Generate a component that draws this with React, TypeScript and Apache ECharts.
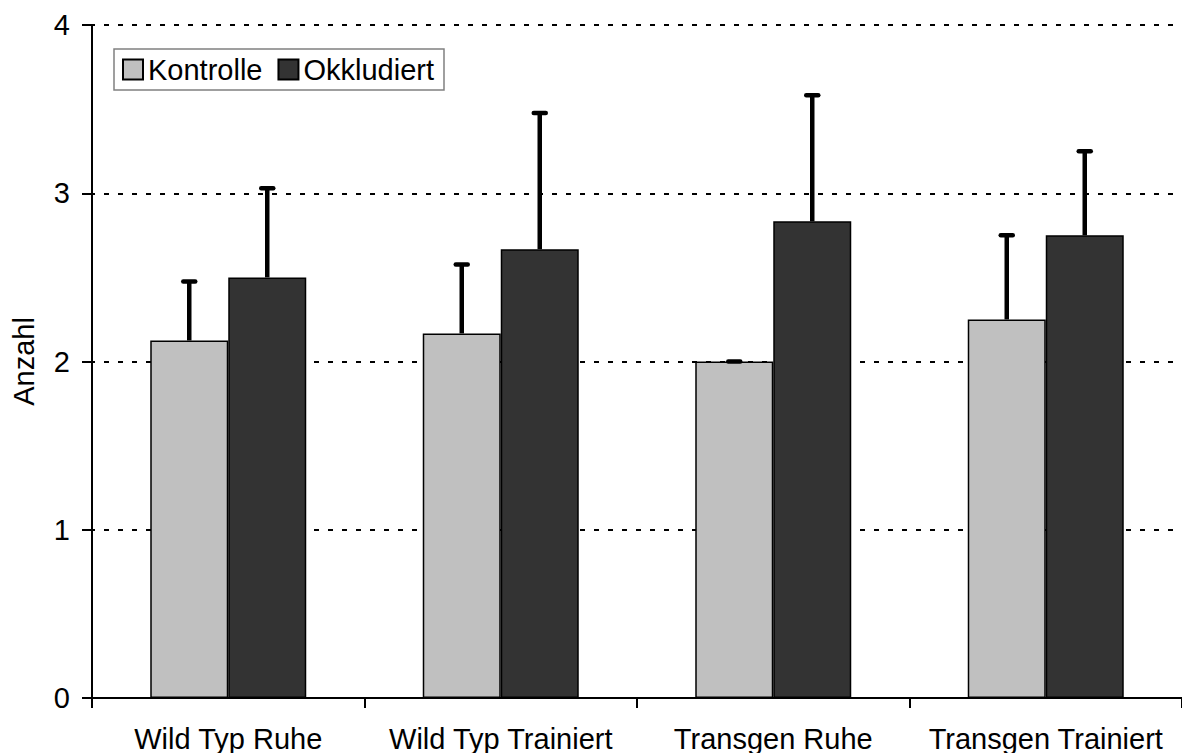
import React, { useEffect, useRef } from "react";
import * as echarts from "echarts";

const categories = ["Wild Typ Ruhe", "Wild Typ Trainiert", "Transgen Ruhe", "Transgen Trainiert"];
const kontrolle = [2.125, 2.167, 2.0, 2.25];
const kontrolleErr = [0.35, 0.41, 0.0, 0.5];
const okkludiert = [2.5, 2.667, 2.833, 2.75];
const okkludiertErr = [0.53, 0.81, 0.75, 0.5];
const yTicks = { min: 0, max: 4, interval: 1 };

const FONT = "'Liberation Sans', Arial, sans-serif";
const FS = 29;
const CAT_GAP = 0.4275;

function errSeries(name: string, vals: number[], errs: number[], side: number) {
  return {
    type: "custom",
    name: name + " SE",
    z: 5,
    clip: false,
    encode: { x: 0, y: 1 },
    data: vals.map((v, i) => [i, v, errs[i]]),
    renderItem: (params: any, api: any) => {
      const i = api.value(0);
      const v = api.value(1);
      const e = api.value(2);
      const band = api.size([1, 0])[0];
      const barW = (band * (1 - CAT_GAP)) / 2;
      const top = api.coord([i, v + e]);
      const base = api.coord([i, v]);
      const x = top[0] + (side * barW) / 2;
      return {
        type: "group",
        children: [
          {
            type: "line",
            shape: { x1: x, y1: base[1], x2: x, y2: top[1] },
            style: { stroke: "#000", lineWidth: 4.5 },
          },
          {
            type: "line",
            shape: { x1: x - 6, y1: top[1], x2: x + 6, y2: top[1] },
            style: { stroke: "#000", lineWidth: 4.5, lineCap: "round" },
          },
        ],
      };
    },
  };
}

export default function App() {
  const ref = useRef<HTMLDivElement>(null);
  useEffect(() => {
    if (!ref.current) return;
    const chart = echarts.init(ref.current, undefined, { renderer: "svg" });
    chart.setOption({
      animation: false,
      backgroundColor: "#fff",
      textStyle: { fontFamily: FONT },
      grid: {
        left: 92,
        right: 0,
        top: 25,
        bottom: 55,
        containLabel: false,
        outerBoundsMode: "none",
      },
      legend: {
        data: ["Kontrolle", "Okkludiert"],
        left: 114,
        top: 49,
        orient: "horizontal",
        padding: [6, 10, 6, 8],
        itemWidth: 20,
        itemHeight: 20,
        itemGap: 15,
        icon: "rect",
        borderColor: "#808080",
        borderWidth: 1.5,
        borderRadius: 0,
        itemStyle: { borderColor: "#000", borderWidth: 2 },
        textStyle: { fontSize: FS, color: "#000", fontFamily: FONT },
      },
      xAxis: {
        type: "category",
        data: categories,
        boundaryGap: true,
        axisLine: { lineStyle: { color: "#000", width: 2 } },
        axisTick: { show: true, length: 10, lineStyle: { color: "#000", width: 2 } },
        axisLabel: { fontSize: FS, color: "#000", margin: 26, fontFamily: FONT, interval: 0 },
        splitLine: { show: false },
      },
      yAxis: {
        type: "value",
        min: yTicks.min,
        max: yTicks.max,
        interval: yTicks.interval,
        name: "Anzahl",
        nameLocation: "middle",
        nameGap: 54,
        nameRotate: 90,
        nameTextStyle: { fontSize: FS, color: "#000", fontFamily: FONT },
        axisLine: { show: true, lineStyle: { color: "#000", width: 2 } },
        axisTick: { show: true, length: 10, lineStyle: { color: "#000", width: 2 } },
        axisLabel: { fontSize: FS, color: "#000", margin: 22, fontFamily: FONT },
        splitLine: {
          show: true,
          lineStyle: { color: "#000", width: 2, type: [5, 9], dashOffset: 2 },
        },
      },
      series: [
        {
          type: "bar",
          name: "Kontrolle",
          data: kontrolle,
          barGap: "0%",
          barCategoryGap: CAT_GAP * 100 + "%",
          itemStyle: { color: "#c0c0c0", borderColor: "#000", borderWidth: 1.5 },
        },
        {
          type: "bar",
          name: "Okkludiert",
          data: okkludiert,
          barGap: "0%",
          barCategoryGap: CAT_GAP * 100 + "%",
          itemStyle: { color: "#333333", borderColor: "#000", borderWidth: 1.5 },
        },
        errSeries("Kontrolle", kontrolle, kontrolleErr, -1),
        errSeries("Okkludiert", okkludiert, okkludiertErr, 1),
      ],
    });
    return () => chart.dispose();
  }, []);
  return (
    <div
      ref={ref}
      style={{ position: "fixed", left: 0, top: 0, width: 1182, height: 753 }}
    />
  );
}
